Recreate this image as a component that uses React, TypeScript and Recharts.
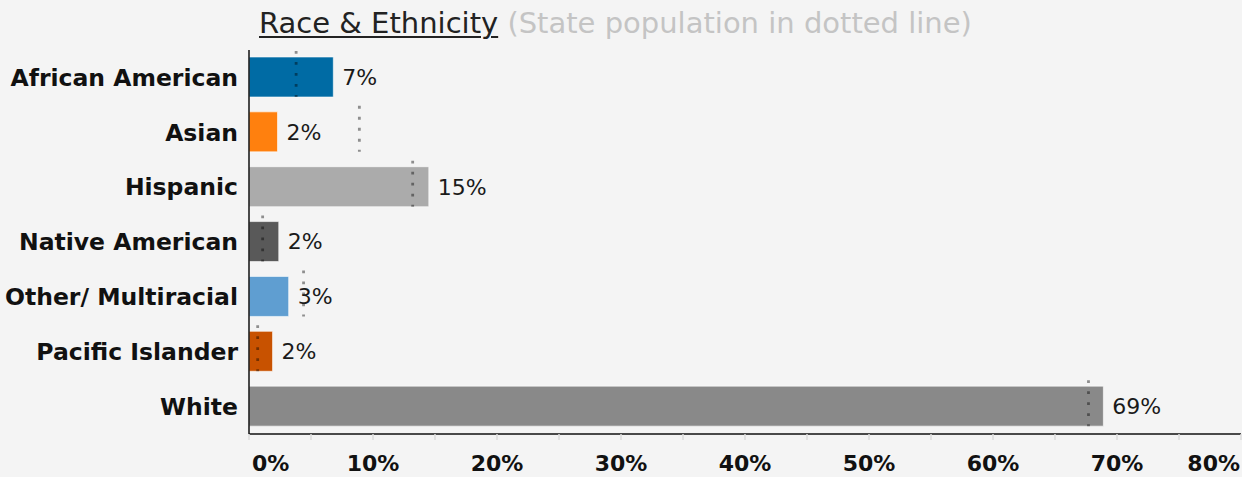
import { BarChart, Bar, XAxis, YAxis, Cell, LabelList } from 'recharts';

const groups = [
  'African American',
  'Asian',
  'Hispanic',
  'Native American',
  'Other/ Multiracial',
  'Pacific Islander',
  'White',
];
const schoolPct = [6.8, 2.3, 14.5, 2.4, 3.2, 1.9, 68.9];
const statePct = [3.8, 8.9, 13.2, 1.1, 4.4, 0.7, 67.7];
const barColors = ['#006BA4', '#FF800E', '#ABABAB', '#595959', '#5F9ED1', '#C85200', '#898989'];
const xTicks = [0, 5, 10, 15, 20, 25, 30, 35, 40, 45, 50, 55, 60, 65, 70, 75, 80];

const rows = groups.map((name, i) => ({
  name,
  school: schoolPct[i],
  state: statePct[i],
}));

const FONT = '"DejaVu Sans", Verdana, sans-serif';
const BG = '#f4f4f4';

// dotted marker at the end of the (invisible) state bar
const StateLine = (props: any) => {
  const { x, y, width, height } = props;
  const lx = x + width;
  return (
    <line
      x1={lx}
      x2={lx}
      y1={y - 6}
      y2={y + height}
      stroke="#000"
      strokeOpacity={0.42}
      strokeWidth={2.8}
      strokeDasharray="2.8 8.2"
    />
  );
};

const XTick = (props: any) => {
  const { x, y, payload } = props;
  const v = payload.value;
  if (v % 10 !== 0) return null;
  let anchor: 'start' | 'middle' | 'end' = 'middle';
  let tx = x;
  if (v === 0) {
    anchor = 'start';
    tx = x + 3;
  } else if (v === 80) {
    anchor = 'end';
    tx = x - 1;
  }
  return (
    <text x={tx} y={y + 31} textAnchor={anchor} fontFamily={FONT} fontWeight="bold" fontSize={22} fill="#111">
      {`${v}%`}
    </text>
  );
};

export default function App() {
  return (
    <div style={{ position: 'fixed', left: 0, top: 0, width: 1242, height: 477, background: BG }}>
      <div
        style={{
          position: 'absolute',
          left: 259,
          top: 7,
          fontFamily: FONT,
          fontSize: 29,
          lineHeight: '33px',
          whiteSpace: 'nowrap',
        }}
      >
        <span style={{ color: '#222', textDecoration: 'underline', textDecorationThickness: 2, textUnderlineOffset: 3 }}>
          Race &amp; Ethnicity
        </span>
        <span style={{ color: '#c4c4c4' }}> (State population in dotted line)</span>
      </div>
      <BarChart
        width={1242}
        height={477}
        data={rows}
        layout="vertical"
        margin={{ top: 50, right: 1, left: 0, bottom: 0 }}
        style={{ position: 'absolute', left: 0, top: 0 }}
      >
        <XAxis
          type="number"
          domain={[0, 80]}
          ticks={xTicks}
          interval={0}
          height={43}
          axisLine={{ stroke: '#111', strokeWidth: 1.5 }}
          tickLine={{ stroke: '#dcdcdc', strokeWidth: 1.5 }}
          tickSize={6}
          tickMargin={0}
          tick={<XTick />}
        />
        <YAxis
          type="category"
          dataKey="name"
          width={249}
          axisLine={{ stroke: '#111', strokeWidth: 1.5 }}
          tickLine={false}
          tickSize={0}
          tickMargin={11}
          tick={{ fontFamily: FONT, fontWeight: 'bold', fontSize: 23.5, fill: '#111' }}
        />
        <YAxis yAxisId="state" type="category" dataKey="name" hide />
        <Bar dataKey="school" barSize={40} isAnimationActive={false} stroke="#ffffff" strokeOpacity={0.6} strokeWidth={1}>
          {rows.map((r, i) => (
            <Cell key={r.name} fill={barColors[i]} />
          ))}
          <LabelList
            dataKey="school"
            position="right"
            offset={9}
            formatter={(v: any) => `${Math.round(Number(v))}%`}
            style={{ fontFamily: FONT, fontSize: 22, fill: '#1a1a1a' }}
          />
        </Bar>
        <Bar yAxisId="state" dataKey="state" barSize={40} isAnimationActive={false} shape={<StateLine />} />
      </BarChart>
    </div>
  );
}
